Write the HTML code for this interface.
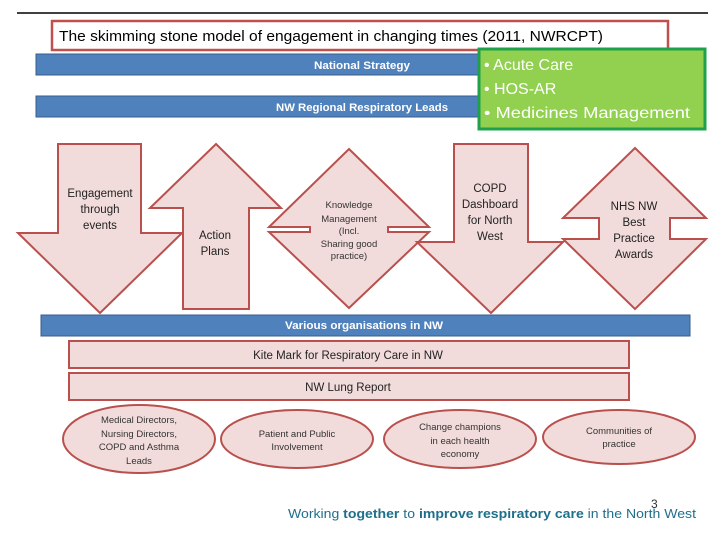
<!DOCTYPE html>
<html><head><meta charset="utf-8"><style>
html,body{margin:0;padding:0;background:#fff;}
svg{display:block;font-family:"Liberation Sans",sans-serif;}
</style></head><body>
<svg width="720" height="540" viewBox="0 0 720 540" xmlns="http://www.w3.org/2000/svg">
<line x1="17" y1="13" x2="708" y2="13" stroke="#000" stroke-width="1.5"/>
<rect x="52" y="21" width="616" height="29" fill="#fff" stroke="#c0504d" stroke-width="2.5"/>
<text x="59" y="41" font-size="14.5" fill="#000" textLength="544" lengthAdjust="spacingAndGlyphs">The skimming stone model of engagement in changing times (2011, NWRCPT)</text>
<rect x="36" y="54" width="450" height="21" fill="#4f81bd" stroke="#385d8a"/>
<text x="362" y="69" font-size="11" font-weight="bold" fill="#fff" text-anchor="middle" textLength="96" lengthAdjust="spacingAndGlyphs">National Strategy</text>
<rect x="36" y="96" width="450" height="21" fill="#4f81bd" stroke="#385d8a"/>
<text x="362" y="111" font-size="11" font-weight="bold" fill="#fff" text-anchor="middle" textLength="172" lengthAdjust="spacingAndGlyphs">NW Regional Respiratory Leads</text>
<rect x="479" y="49" width="226" height="80" fill="#92d050" stroke="#1fa04a" stroke-width="3"/>
<g font-size="16" fill="#fff">
<text x="484" y="70">• Acute Care</text>
<text x="484" y="94">• HOS-AR</text>
<text x="484" y="118" textLength="206" lengthAdjust="spacingAndGlyphs">• Medicines Management</text>
</g>
<g fill="#f2dcdb" stroke="#b9504d" stroke-width="2">
<polygon points="58,144 141,144 141,233 182,233 100,313 18,233 58,233"/>
<polygon points="216,144 281,208 249,208 249,309 183,309 183,208 150,208"/>
<polygon points="349,149 429,227 388,227 388,232 429,232 349,308 269,232 310,232 310,227 269,227"/>
<polygon points="454,144 528,144 528,242 563,242 491,313 417,242 454,242"/>
<polygon points="635,148 706,218 670,218 670,239 706,239 635,309 563,239 599,239 599,218 563,218"/>
</g>
<g font-size="11.5" fill="#222" text-anchor="middle">
<text x="100" y="197">Engagement</text><text x="100" y="213">through</text><text x="100" y="229">events</text>
<text x="215" y="239">Action</text><text x="215" y="255">Plans</text>
<text x="490" y="192">COPD</text><text x="490" y="208">Dashboard</text><text x="490" y="224">for North</text><text x="490" y="240">West</text>
<text x="634" y="210">NHS NW</text><text x="634" y="226">Best</text><text x="634" y="242">Practice</text><text x="634" y="258">Awards</text>
</g>
<g font-size="9.5" fill="#333" text-anchor="middle">
<text x="349" y="208">Knowledge</text><text x="349" y="222">Management</text><text x="349" y="234">(Incl.</text><text x="349" y="247">Sharing good</text><text x="349" y="259">practice)</text>
</g>
<rect x="41" y="315" width="649" height="21" fill="#4f81bd" stroke="#385d8a"/>
<text x="364" y="329" font-size="11" font-weight="bold" fill="#fff" text-anchor="middle" textLength="158" lengthAdjust="spacingAndGlyphs">Various organisations in NW</text>
<g fill="#f2dcdb" stroke="#b9504d" stroke-width="2">
<rect x="69" y="341" width="560" height="27"/>
<rect x="69" y="373" width="560" height="27"/>
<ellipse cx="139" cy="439" rx="76" ry="34"/>
<ellipse cx="297" cy="439" rx="76" ry="29"/>
<ellipse cx="460" cy="439" rx="76" ry="29"/>
<ellipse cx="619" cy="437" rx="76" ry="27"/>
</g>
<g font-size="11.5" fill="#222" text-anchor="middle">
<text x="348" y="359">Kite Mark for Respiratory Care in NW</text>
<text x="348" y="391">NW Lung Report</text>
</g>
<g font-size="9.5" fill="#333" text-anchor="middle">
<text x="139" y="423">Medical Directors,</text><text x="139" y="437">Nursing Directors,</text><text x="139" y="450">COPD and Asthma</text><text x="139" y="464">Leads</text>
<text x="297" y="437">Patient and Public</text><text x="297" y="450">Involvement</text>
<text x="460" y="430">Change champions</text><text x="460" y="444">in each health</text><text x="460" y="457">economy</text>
<text x="619" y="434">Communities of</text><text x="619" y="447">practice</text>
</g>
<text x="651" y="508" font-size="12" fill="#333">3</text>
<text x="288" y="518" font-size="13" fill="#1f6f8b" textLength="408" lengthAdjust="spacingAndGlyphs">Working <tspan font-weight="bold">together</tspan> to <tspan font-weight="bold">improve respiratory care</tspan> in the North West</text>
</svg>
</body></html>
